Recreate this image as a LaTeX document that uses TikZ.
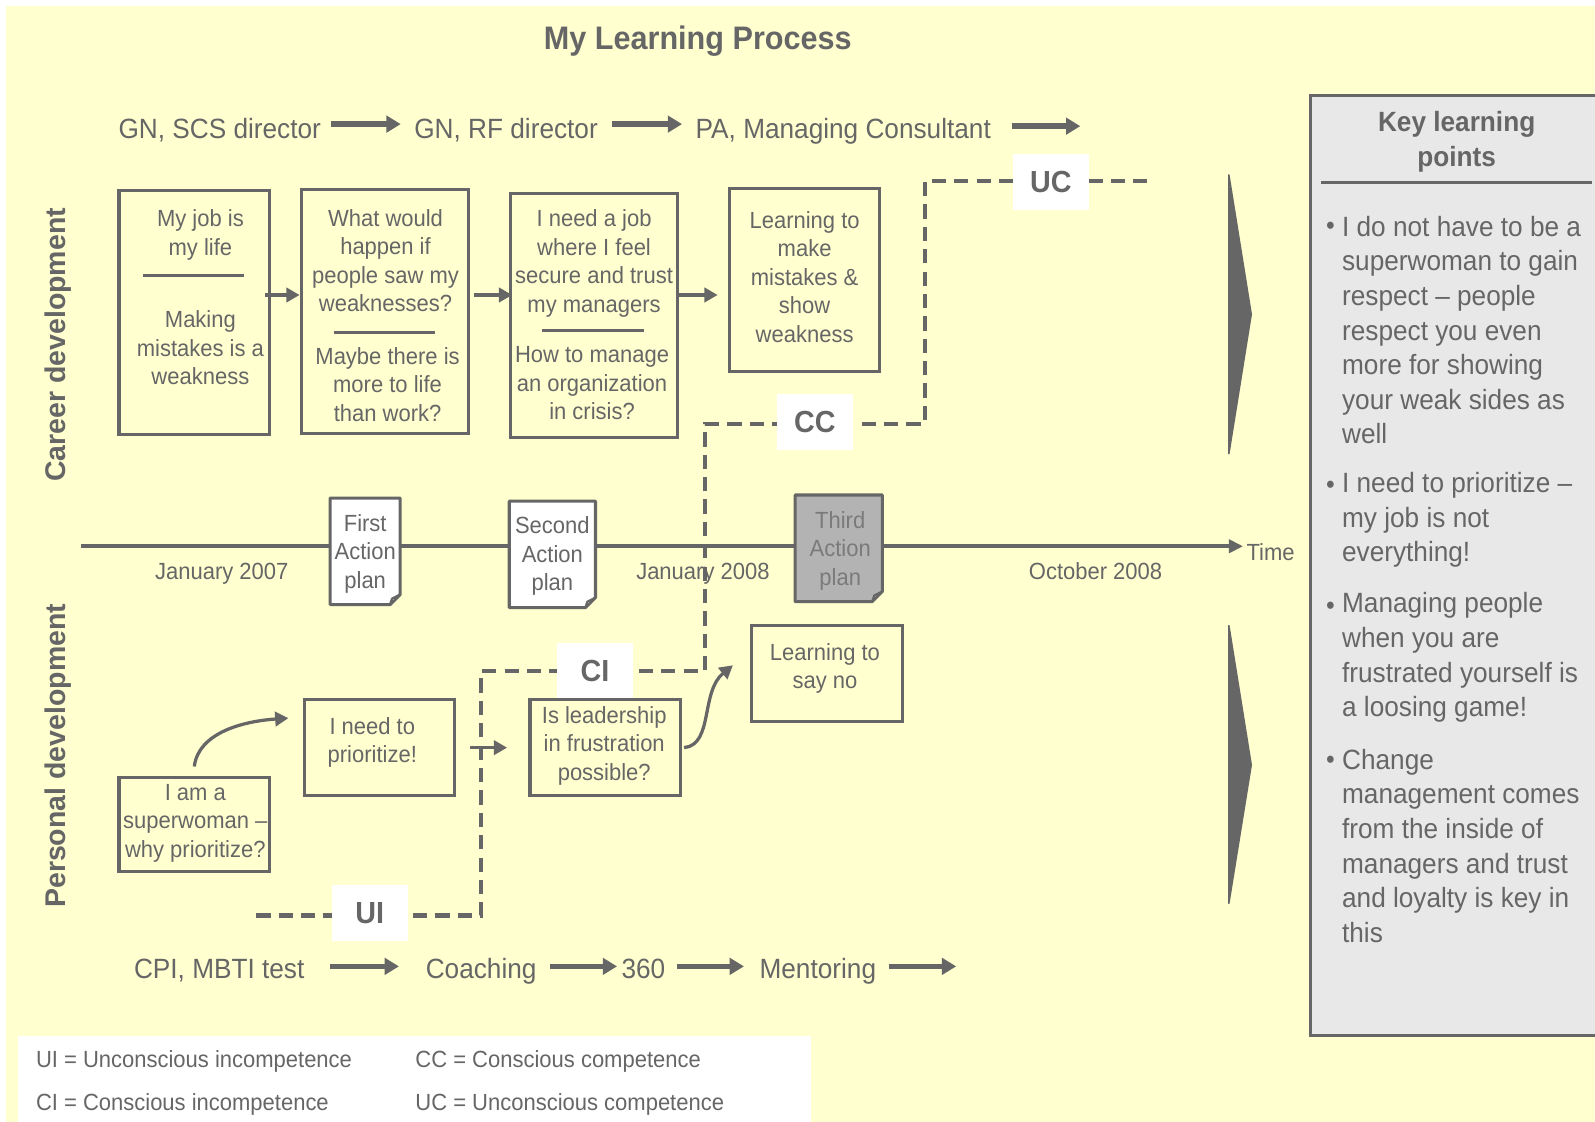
\documentclass[tikz,border=0pt]{standalone}
\usepackage{fontspec}
\setmainfont{Liberation Sans}[FakeStretch=0.94]
\newfontfamily\vfont{Liberation Sans}
\usetikzlibrary{arrows.meta,calc}
\definecolor{ink}{HTML}{666666}
\definecolor{bgy}{HTML}{FFFFD0}
\definecolor{keyfill}{HTML}{E8E8E8}
\definecolor{planfill}{HTML}{B3B3B3}
\definecolor{plantext}{HTML}{7A7A7A}
\tikzset{
  txt/.style={text=ink, font=\fontsize{11.5}{14}\selectfont, align=center, inner sep=0pt},
  oneline/.style={txt, text height=8.5pt, text depth=2.5pt},
  big/.style={text=ink, font=\fontsize{13.7}{17}\selectfont, inner sep=0pt},
  rowtext/.style={big, text height=10pt, text depth=3pt},
  boxx/.style={draw=ink, line width=1.5pt, inner sep=0pt},
  sepline/.style={draw=ink, line width=1.5pt},
  arr/.style={draw=ink, line width=1.6pt, -{Triangle[length=6.5pt,width=7pt]}},
  fatarr/.style={draw=ink, line width=2.7pt, -{Triangle[length=7pt,width=8pt]}},
  lvl/.style={fill=white, text=ink, font=\bfseries\fontsize{15}{18}\selectfont, minimum width=37.5pt, minimum height=27.5pt, inner sep=0pt},
  stairpath/.style={draw=ink, line width=2pt, dash pattern=on 7pt off 4pt},
  planbox/.style={minimum width=#1, minimum height=52pt, inner sep=0pt},
  chev/.style={fill=ink, draw=ink, line width=0.8pt, line join=round},
  sidelabel/.style={text=ink, font=\vfont\bfseries\fontsize{14}{17}\selectfont, rotate=90, inner sep=0pt},
  legend/.style={text=ink, font=\fontsize{11.5}{14}\selectfont, inner sep=0pt, anchor=west, text height=8.5pt, text depth=2.5pt},
  bul/.style={text=ink, font=\fontsize{13}{14}\selectfont, inner sep=0pt, anchor=base},
}
\newcommand{\plannote}[3]{%
  \filldraw[fill=#2, draw=ink, line width=1.5pt, line join=round]
    (#1.north west) -- (#1.north east) -- ([yshift=5pt]#1.south east)
    -- ([xshift=-5pt]#1.south east) -- (#1.south west) -- cycle;
  \filldraw[fill=#3, draw=ink, line width=1pt, line join=round]
    ([yshift=5pt]#1.south east) -- ([xshift=-5pt]#1.south east)
    -- ([xshift=-4pt,yshift=3pt]#1.south east) -- cycle;
}
\begin{document}
\begin{tikzpicture}[x=0.5pt,y=-0.5pt]
\useasboundingbox (0,0) rectangle (1568,1103);
\fill[white] (0,0) rectangle (1568,1103);
\fill[bgy] (6,6) rectangle (1568,1103);

% title
\node[text=ink, font=\bfseries\fontsize{16}{19}\selectfont, inner sep=0pt] (title) at (686,40) {My Learning Process};

% side labels
\node[sidelabel] (career) at (57,339) {Career development};
\node[sidelabel] (personal) at (57,743) {Personal development};

% top row (career path)
\node[rowtext] (t1) at (216,128.8) {GN, SCS director};
\node[rowtext] (t2) at (497.5,128.8) {GN, RF director};
\node[rowtext] (t3) at (829,128.8) {PA, Managing Consultant};
\coordinate (rowT) at (0,122);
\coordinate (t4) at (1062,124);
\draw[fatarr, shorten <=5pt, shorten >=6.5pt] (t1.east |- rowT) -- (t2.west |- rowT);
\draw[fatarr, shorten <=7pt, shorten >=6.5pt] (t2.east |- rowT) -- (t3.west |- rowT);
\draw[fatarr, shorten <=10pt] (t3.east |- t4) -- (t4);

% career boxes
\node[boxx, minimum width=74pt, minimum height=120pt] (b1) at (191,307) {};
\node[txt] (b1a) at (197,231) {My job is\\my life};
\draw[sepline] (141,271) -- (240,271);
\node[txt] (b1b) at (197,342) {Making\\mistakes is a\\weakness};

\node[boxx, minimum width=82.5pt, minimum height=120pt] (b2) at (378.5,306) {};
\node[txt] (b2a) at (379,256) {What would\\happen if\\people saw my\\weaknesses?};
\draw[sepline] (328,327) -- (428,327);
\node[txt] (b2b) at (381,378) {Maybe there is\\more to life\\than work?};

\node[boxx, minimum width=82pt, minimum height=120pt] (b3) at (584,310) {};
\node[txt] (b3a) at (584,259) {I need a job\\where I feel\\secure and trust\\my managers};
\draw[sepline] (533,325) -- (633,325);
\node[txt] (b3b) at (582,377) {How to manage\\an organization\\in crisis?};

\node[boxx, minimum width=74pt, minimum height=90pt] (b4) at (791,275) {};
\node[txt] (b4a) at (791,272) {Learning to\\make\\mistakes \&\\show\\weakness};

\coordinate (rowA) at (0,290);
\draw[arr, shorten <=-3pt] (b1.east |- rowA) -- (b2.west |- rowA);
\draw[arr, shorten <=1.5pt, shorten >=-1.5pt] (b2.east |- rowA) -- (b3.west |- rowA);
\draw[arr, shorten >=5pt] (b3.east |- rowA) -- (b4.west |- rowA);

% timeline
\coordinate (tl0) at (80,537);
\node[oneline, anchor=west] (time) at (1225,545) {Time};
\draw[draw=ink, line width=2pt, -{Triangle[length=7pt,width=6.5pt]}, shorten >=1.5pt] (tl0) -- (tl0 -| time.west);

\node[oneline] (d1) at (218,563.2) {January 2007};
\node[oneline] (d2) at (691,563.2) {January 2008};
\node[oneline] (d3) at (1077,563.2) {October 2008};

% staircase (competence levels)
\coordinate (s0) at (252,900);
\coordinate (s1) at (473,900);
\coordinate (s2) at (473,660);
\coordinate (s3) at (693,660);
\coordinate (s4) at (693,417);
\coordinate (s5) at (909,417);
\coordinate (s6) at (909,178);
\coordinate (s7) at (1128,178);
\draw[stairpath] (s0) -- (s1) -- (s2) -- (s3) -- (s4) -- (s5) -- (s6) -- (s7);

% action plans
\node[planbox=34pt] (ap1) at (359,542) {};
\plannote{ap1}{white}{white}
\node[txt] (ap1t) at (359,544.5) {First\\Action\\plan};
\node[planbox=42pt] (ap2) at (543,545) {};
\plannote{ap2}{white}{white}
\node[txt] (ap2t) at (543,547) {Second\\Action\\plan};
\node[planbox=42.5pt] (ap3) at (824.5,539) {};
\plannote{ap3}{planfill}{planfill}
\node[txt, text=plantext] (ap3t) at (826,541.5) {Third\\Action\\plan};

% level labels
\node[lvl] (ui) at (363.5,897.5) {UI};
\node[lvl] (ci) at (585,660) {CI};
\node[lvl] (cc) at (801,415) {CC};
\node[lvl] (uc) at (1033,178.5) {UC};

% personal boxes
\node[boxx, minimum width=74pt, minimum height=46.5pt] (p1) at (191,810.5) {};
\node[txt] (p1t) at (192,809) {I am a\\superwoman –\\why prioritize?};
\node[boxx, minimum width=74pt, minimum height=47pt] (p2) at (373,735) {};
\node[txt] (p2t) at (366,730) {I need to\\prioritize!};
\node[boxx, minimum width=74pt, minimum height=47pt] (p3) at (595,735) {};
\node[txt] (p3t) at (594,733) {Is leadership\\in frustration\\possible?};
\node[boxx, minimum width=74pt, minimum height=47pt] (p4) at (813,662) {};
\node[txt] (p4t) at (811,657) {Learning to\\say no};

\draw[arr] ([yshift=4.5pt]p1.north) .. controls +(4,-33) and +(-45,3) .. ([xshift=-7pt,yshift=14.5pt]p2.west);
\draw[arr, shorten <=7pt, shorten >=10.5pt] (p2.east) -- (p3.west);
\draw[arr] ([xshift=1pt]p3.east) .. controls +(29,-3) and +(-32,26) .. ([xshift=-8.5pt,yshift=4pt]p4.west);

% chevrons
\filldraw[chev] (1208,172) -- (1230,309) -- (1208,446) -- cycle;
\filldraw[chev] (1208,615) -- (1230,752) -- (1208,888) -- cycle;

% bottom row (personal tools)
\node[rowtext] (c1) at (215.5,954.8) {CPI, MBTI test};
\node[rowtext] (c2) at (473,954.8) {Coaching};
\node[rowtext] (c3) at (632.5,954.8) {360};
\node[rowtext] (c4) at (804,954.8) {Mentoring};
\coordinate (rowB) at (0,950);
\coordinate (c5) at (940,950);
\draw[fatarr, shorten <=12.5pt, shorten >=13pt] (c1.east |- rowB) -- (c2.west |- rowB);
\draw[fatarr, shorten <=6.5pt, shorten >=2pt] (c2.east |- rowB) -- (c3.west |- rowB);
\draw[fatarr, shorten <=5.5pt, shorten >=7.5pt] (c3.east |- rowB) -- (c4.west |- rowB);
\draw[fatarr, shorten <=6pt] (c4.east |- rowB) -- (c5);

% key learning points
\node[draw=ink, fill=keyfill, line width=1.5pt, minimum width=143.5pt, minimum height=462pt, inner sep=0pt] (key) at (1431.5,556) {};
\node[text=ink, font=\bfseries\fontsize{13.7}{17}\selectfont, align=center, inner sep=0pt] (keyt) at (1432,139.5) {Key learning\\points};
\draw[sepline] (1299,179) -- (1565,179);

\node[bul] (k1d) at (1308,231) {•};
\node[big, anchor=west, align=left] (k1) at (1319,324.5) {I do not have to be a\\superwoman to gain\\respect – people\\respect you even\\more for showing\\your weak sides as\\well};
\node[bul] (k2d) at (1308,485) {•};
\node[big, anchor=west, align=left] (k2) at (1319,511) {I need to prioritize –\\my job is not\\everything!};
\node[bul] (k3d) at (1308,604) {•};
\node[big, anchor=west, align=left] (k3) at (1319,646.5) {Managing people\\when you are\\frustrated yourself is\\a loosing game!};
\node[bul] (k4d) at (1308,755) {•};
\node[big, anchor=west, align=left] (k4) at (1319,831.5) {Change\\management comes\\from the inside of\\managers and trust\\and loyalty is key in\\this};

% legend
\fill[white] (18,1018) rectangle (797,1103);
\node[legend] (l1) at (35,1043.2) {UI = Unconscious incompetence};
\node[legend] (l2) at (35,1085.2) {CI = Conscious incompetence};
\node[legend] (l3) at (408,1043.2) {CC = Conscious competence};
\node[legend] (l4) at (408,1085.2) {UC = Unconscious competence};
\end{tikzpicture}
\end{document}
